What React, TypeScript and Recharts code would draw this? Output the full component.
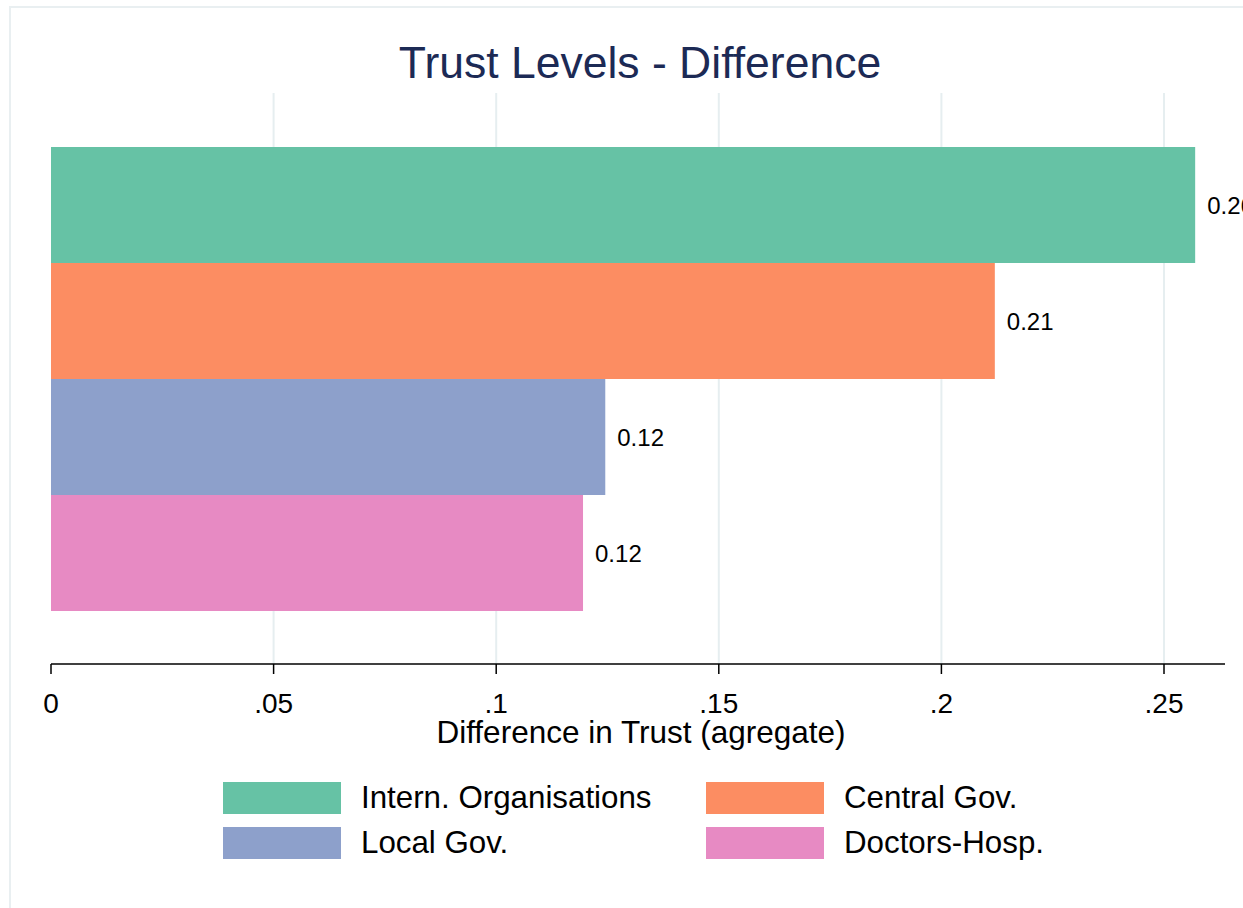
import { BarChart, Bar, XAxis, YAxis, CartesianGrid, Legend, LabelList } from "recharts";

const categories = ["Trust"];
const seriesKeys = ["intern", "central", "local", "doctors"];
const seriesNames = ["Intern. Organisations", "Central Gov.", "Local Gov.", "Doctors-Hosp."];
const seriesValues = [0.257, 0.212, 0.1245, 0.1195];
const seriesColors = ["#66c2a5", "#fc8d62", "#8da0cb", "#e78ac3"];
const xTicks = [0, 0.05, 0.1, 0.15, 0.2, 0.25];
const xMax = 0.2637;

const data = categories.map(name => {
  const row: any = { name };
  seriesKeys.forEach((k, i) => (row[k] = seriesValues[i]));
  return row;
});

const font = "'Liberation Sans', Arial, Helvetica, sans-serif";

// legend laid out like Stata's 2-column key
function KeyLegend() {
  return (
    <div style={{ position: "relative", height: 100, width: 1243, fontFamily: font }}>
      {seriesNames.map((n, i) => {
        const col = i % 2;
        const row = Math.floor(i / 2);
        return (
          <div
            key={n}
            style={{
              position: "absolute",
              left: col === 0 ? 223 : 706,
              top: 7 + row * 45,
              display: "flex",
              alignItems: "center",
              height: 32,
            }}
          >
            <div style={{ width: 118, height: 32, background: seriesColors[i] }} />
            <span style={{ marginLeft: 20, fontSize: 31.3, color: "#000", whiteSpace: "nowrap" }}>{n}</span>
          </div>
        );
      })}
    </div>
  );
}

export default function App() {
  return (
    <div style={{ position: "absolute", left: 0, top: 0, width: 1243, height: 908, background: "#fff" }}>
      <div
        style={{
          position: "absolute",
          left: 9,
          top: 6,
          width: 1250,
          height: 920,
          border: "2px solid #e9eff1",
          boxSizing: "border-box",
        }}
      />
      <div
        style={{
          position: "absolute",
          top: 41,
          left: 0,
          width: 1280,
          textAlign: "center",
          fontFamily: font,
          fontSize: 44.5,
          lineHeight: 1,
          color: "#1c2a55",
        }}
      >
        Trust Levels - Difference
      </div>
      <BarChart
        width={1243}
        height={908}
        data={data}
        layout="vertical"
        margin={{ top: 93, right: 18, left: 51, bottom: 64 }}
        barGap={0}
        style={{ fontFamily: font }}
      >
        <CartesianGrid
          horizontal={false}
          stroke="#e6eef0"
          strokeWidth={2}
          verticalCoordinatesGenerator={({ offset }: any) =>
            xTicks.slice(1).map(t => offset.left + (t / xMax) * offset.width)
          }
        />
        <XAxis
          type="number"
          domain={[0, xMax]}
          ticks={xTicks}
          height={80}
          tickSize={10}
          tickMargin={19}
          axisLine={{ stroke: "#000", strokeWidth: 1.5 }}
          tickLine={{ stroke: "#000", strokeWidth: 1.5 }}
          tickFormatter={(v: number) => (v === 0 ? "0" : String(v).replace(/^0/, ""))}
          tick={{ fontSize: 28, fill: "#000" }}
          label={({ viewBox }: any) => (
            <text
              x={viewBox.x + viewBox.width / 2 + 3}
              y={viewBox.y + 79}
              textAnchor="middle"
              fontSize={31.5}
              fill="#000"
            >
              Difference in Trust (agregate)
            </text>
          )}
        />
        <YAxis
          type="category"
          dataKey="name"
          width={0}
          tick={false}
          tickLine={false}
          axisLine={{ stroke: "#000", strokeWidth: 1.5 }}
        />
        <Legend
          verticalAlign="bottom"
          content={() => <KeyLegend />}
          wrapperStyle={{ position: "absolute", left: 0, top: 775, width: 1243, height: 100 }}
        />
        {seriesKeys.map((k, i) => (
          <Bar
            key={k}
            dataKey={k}
            name={seriesNames[i]}
            fill={seriesColors[i]}
            barSize={116}
            isAnimationActive={false}
          >
            <LabelList
              dataKey={k}
              position="right"
              offset={12}
              fontSize={24}
              fill="#000"
              formatter={(v: any) => Number(v).toFixed(2)}
            />
          </Bar>
        ))}
      </BarChart>
    </div>
  );
}
